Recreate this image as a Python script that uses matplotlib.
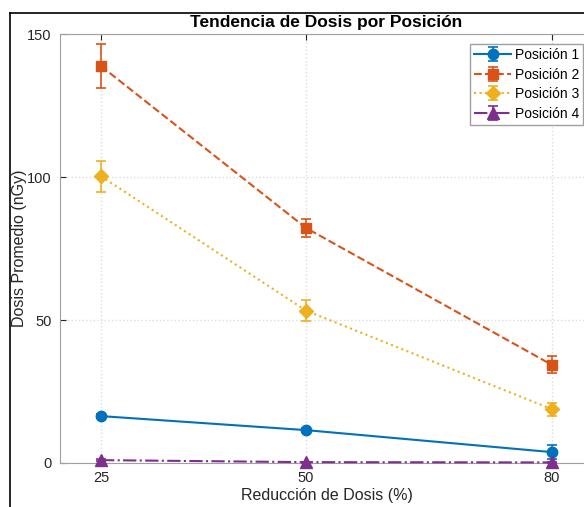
import matplotlib
matplotlib.use("Agg")
import matplotlib.pyplot as plt
from matplotlib.lines import Line2D

plt.rcParams['font.family'] = ['Liberation Sans', 'DejaVu Sans']

# datos
reduccion = [25, 50, 80]
etiquetas = ["Posición 1", "Posición 2", "Posición 3", "Posición 4"]
dosis_p1 = [16.4, 11.5, 3.8]
dosis_p2 = [138.8, 82.2, 34.3]
dosis_p3 = [100.3, 53.3, 18.8]
dosis_p4 = [1.0, 0.3, 0.2]
err_p1 = [0.8, 0.8, 2.4]
err_p2 = [7.8, 3.0, 3.0]
err_p3 = [5.4, 3.6, 2.2]
err_p4 = [0.3, 0.2, 0.2]

colores = ["#0072BD", "#D95319", "#EDB120", "#7E2F8E"]
marcadores = ["o", "s", "D", "^"]
tamanos = [7.5, 6.5, 7, 8]
estilos = ["-", "--", ":", "-."]

fig = plt.figure(figsize=(5.84, 5.07), dpi=100)
ax = fig.add_axes([0.1027, 0.0868, 0.9127, 0.846])

series = [dosis_p1, dosis_p2, dosis_p3, dosis_p4]
errores = [err_p1, err_p2, err_p3, err_p4]
for y, e, c, m, ms, ls, lab in zip(series, errores, colores, marcadores, tamanos, estilos, etiquetas):
    ax.errorbar(reduccion, y, yerr=e, color=c, marker=m, linestyle=ls, linewidth=1.5,
                markersize=ms, capsize=3.5, elinewidth=1.2, capthick=1.2, label=lab,
                clip_on=False, zorder=3)

ax.set_xlim(20, 85)
ax.set_ylim(0, 150)
ax.set_xticks(reduccion)
ax.set_yticks([0, 50, 100, 150])
ax.tick_params(direction="in", colors="#262626", labelsize=10.5, length=4, pad=6,
               top=True, right=True)
for sp in ax.spines.values():
    sp.set_color("#A0A0A0")
ax.grid(True, linestyle=":", color="#DCDCDC", linewidth=1)

ax.set_xlabel("Reducción de Dosis (%)", fontsize=11.5, color="#262626", labelpad=2)
ax.set_ylabel("Dosis Promedio (nGy)", fontsize=11.5, color="#262626", labelpad=0)
ax.set_title("Tendencia de Dosis por Posición", fontsize=12.5, fontweight="bold", pad=5)

leg = ax.legend(loc="upper right", fontsize=10, fancybox=False, framealpha=1,
                edgecolor="#A0A0A0", borderaxespad=0.7, handlelength=2.6,
                handletextpad=0.3, borderpad=0.3, labelspacing=0.4)
leg.set_zorder(5)

# marco de la captura
fig.add_artist(Line2D([10 / 584, 10 / 584], [0, 1 - 13 / 507], color="black", lw=1.2, transform=fig.transFigure))
fig.add_artist(Line2D([10 / 584, 1], [1 - 13 / 507, 1 - 13 / 507], color="black", lw=1.2, transform=fig.transFigure))

fig.savefig("out.png", dpi=100)
